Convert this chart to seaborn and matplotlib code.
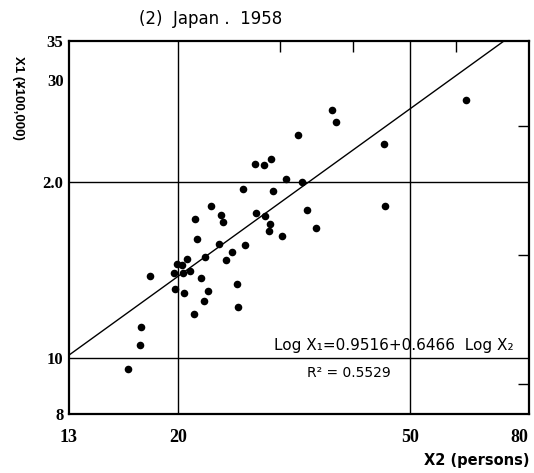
import numpy as np
import pandas as pd
import matplotlib
matplotlib.use("Agg")
import matplotlib.pyplot as plt
import matplotlib.ticker as mticker
import seaborn as sns

sns.set_theme(style="white")
plt.rcParams["font.family"] = ["DejaVu Sans"]

# persons per household (X2) vs income (X1)
x2_persons = [36.8, 37.4, 32.2, 27.1, 28.1, 28.9, 30.7, 32.7, 25.9, 29.1,
              22.8, 33.3, 21.4, 23.7, 23.9, 27.2, 28.2, 28.8, 28.7, 30.2,
              34.5, 21.6, 23.5, 26.1, 24.8, 24.2, 22.3, 20.7, 19.9, 20.3,
              19.7, 20.4, 21.0, 17.9, 21.9, 25.3, 19.8, 20.5, 22.5, 22.2,
              25.4, 21.3, 17.3, 17.2, 16.4, 62.5, 45.2, 45.3]
x1_income = [26.6, 25.4, 24.1, 21.5, 21.4, 21.9, 20.3, 20.0, 19.5, 19.3,
             18.2, 17.9, 17.3, 17.6, 17.1, 17.7, 17.5, 17.0, 16.5, 16.2,
             16.7, 16.0, 15.7, 15.6, 15.2, 14.7, 14.9, 14.8, 14.5, 14.4,
             14.0, 14.0, 14.1, 13.8, 13.7, 13.4, 13.1, 12.9, 13.0, 12.5,
             12.2, 11.9, 11.3, 10.5, 9.56, 27.7, 23.3, 18.2]

fit_x = [13.0, 72.6]
fit_y = [10.1, 35.0]

x_ticks = [13, 20, 50, 80]
x_tick_labels = ["13", "20", "50", "80"]
y_ticks = [8, 10, 20, 30, 35]
y_tick_labels = ["8", "10", "2.0", "30", "35"]
x_minor = [30, 40, 60]
y_minor = [9, 15, 25, 30]
grid_x = [20, 50]
grid_y = [10, 20]

df = pd.DataFrame({"X2": x2_persons, "X1": x1_income})
fit = pd.DataFrame({"X2": fit_x, "X1": fit_y})

fig = plt.figure(figsize=(5.34, 4.73), dpi=100)
fig.patch.set_facecolor("white")
ax = fig.add_axes([69 / 534, 1 - 414 / 473, (528.5 - 69) / 534, (414 - 41) / 473])
ax.set_facecolor("white")

ax.set_xscale("log")
ax.set_yscale("log")

for gx in grid_x:
    ax.axvline(gx, color="black", lw=1.0, zorder=1)
for gy in grid_y:
    ax.axhline(gy, color="black", lw=1.0, zorder=1)

sns.lineplot(data=fit, x="X2", y="X1", color="black", lw=1.0,
             estimator=None, sort=False, ax=ax, zorder=2)
sns.scatterplot(data=df, x="X2", y="X1", color="black", s=30,
                edgecolor="black", linewidth=0, ax=ax, zorder=3)

ax.set_xlim(13, 80)
ax.set_ylim(8, 35)

ax.xaxis.set_major_locator(mticker.FixedLocator(x_ticks))
ax.xaxis.set_major_formatter(mticker.FixedFormatter(x_tick_labels))
ax.xaxis.set_minor_locator(mticker.FixedLocator(x_minor))
ax.xaxis.set_minor_formatter(mticker.NullFormatter())
ax.yaxis.set_major_locator(mticker.FixedLocator(y_ticks))
ax.yaxis.set_major_formatter(mticker.FixedFormatter(y_tick_labels))
ax.yaxis.set_minor_locator(mticker.FixedLocator(y_minor))
ax.yaxis.set_minor_formatter(mticker.NullFormatter())

ax.tick_params(which="both", direction="in", top=True, right=True,
               color="black", width=1.0)
ax.tick_params(which="major", length=0)
ax.tick_params(which="minor", length=8)
ax.tick_params(axis="x", which="major", pad=11, labelsize=13)
ax.tick_params(axis="y", which="major", pad=4, labelsize=12)
for lab in ax.get_xticklabels() + ax.get_yticklabels():
    lab.set_fontfamily("Liberation Serif")
    lab.set_fontweight("bold")
    lab.set_color("black")
# keep the last x label inside the figure
ax.get_xticklabels()[-1].set_horizontalalignment("right")

for sp in ax.spines.values():
    sp.set_color("black")
    sp.set_linewidth(1.6)

ax.set_xlabel("")
ax.set_ylabel("")

fig.text(139 / 534, 1 - 19 / 473, "(2)  Japan .  1958", ha="left", va="center",
         fontsize=12, color="black")
fig.text(530 / 534, 1 - 460 / 473, "X2 (persons)", ha="right", va="center",
         fontsize=10.5, fontweight="bold", color="black")
fig.text(18 / 534, 1 - 98 / 473, "X1 (¥100,000)", ha="center", va="center",
         rotation=270, fontsize=9.5, fontweight="bold", color="black",
         family="Liberation Sans")
fig.text(274 / 534, 1 - 345 / 473, "Log X₁=0.9516+0.6466  Log X₂",
         ha="left", va="center", fontsize=11, color="black")
fig.text(307 / 534, 1 - 373 / 473, "R² = 0.5529", ha="left", va="center",
         fontsize=10, color="black")

fig.savefig("out.png", dpi=100, facecolor="white")
